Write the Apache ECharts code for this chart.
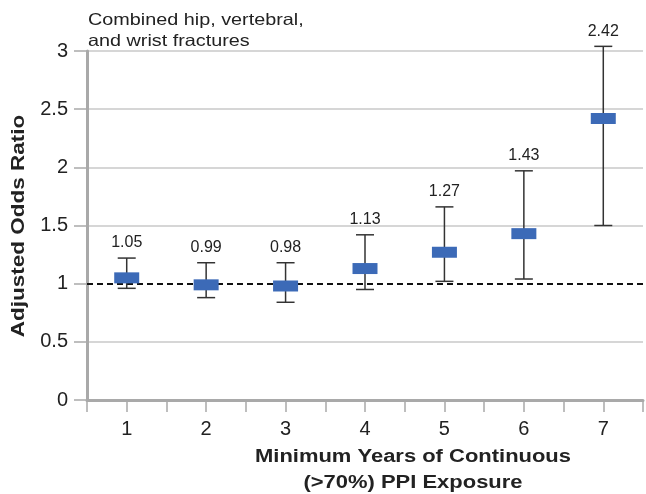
<!DOCTYPE html>
<html>
<head>
<meta charset="utf-8">
<script src="https://cdn.jsdelivr.net/npm/echarts@6/dist/echarts.min.js"></script>
<style>
  html, body { margin: 0; padding: 0; background: #fff; }
  #chart { width: 646px; height: 494px; }
</style>
</head>
<body>
<div id="chart"></div>
<script>
// Minimum years of continuous (>70%) PPI exposure
const years = [1, 2, 3, 4, 5, 6, 7];
// Adjusted odds ratios and 95% confidence limits
const oddsRatio = [1.05, 0.99, 0.98, 1.13, 1.27, 1.43, 2.42];
const ciLow = [0.96, 0.88, 0.84, 0.95, 1.02, 1.04, 1.50];
const ciHigh = [1.22, 1.18, 1.18, 1.42, 1.66, 1.97, 3.04];
const referenceRatio = 1;

const FONT = '"Liberation Sans", Arial, Helvetica, sans-serif';
const chart = echarts.init(document.getElementById('chart'), null, { renderer: 'canvas' });

const intervals = years.map((y, i) => [y, oddsRatio[i], ciLow[i], ciHigh[i]]);
const points = years.map((y, i) => [y, oddsRatio[i]]);

chart.setOption({
  animation: false,
  backgroundColor: '#ffffff',
  grid: { left: 87, right: 0, top: 51, bottom: 94, containLabel: false },
  xAxis: {
    type: 'value',
    min: 0.5, max: 7.5, interval: 0.5,
    axisLine: { show: true, lineStyle: { color: '#a9a9a9', width: 3 } },
    axisTick: { show: true, length: 12, lineStyle: { color: '#a9a9a9', width: 1.5 } },
    axisLabel: {
      margin: 19, fontFamily: FONT, fontSize: 20, color: '#222',
      formatter: v => Number.isInteger(v) ? String(v) : ''
    },
    splitLine: { show: false }
  },
  yAxis: {
    type: 'value',
    min: 0, max: 3, interval: 0.5,
    axisLine: { show: true, lineStyle: { color: '#a9a9a9', width: 3 } },
    axisTick: { show: true, length: 13, lineStyle: { color: '#a9a9a9', width: 1.5 } },
    axisLabel: { margin: 19, fontFamily: FONT, fontSize: 20, color: '#222' },
    splitLine: {
      show: true,
      lineStyle: {
        color: ['#c9c9c9', '#c9c9c9', 'rgba(0,0,0,0)', '#c9c9c9', '#c9c9c9', '#c9c9c9', '#c9c9c9'],
        width: 1.5
      }
    }
  },
  graphic: [
    {
      type: 'text', x: 88, y: 10, scaleX: 1.2,
      style: {
        text: 'Combined hip, vertebral,\nand wrist fractures',
        font: '16.5px ' + FONT, fill: '#222', lineHeight: 21
      }
    },
    {
      type: 'text', x: 19, y: 226, rotation: Math.PI / 2, scaleX: 1.25,
      style: {
        text: 'Adjusted Odds Ratio', font: 'bold 18px ' + FONT, fill: '#222',
        textAlign: 'center', textVerticalAlign: 'middle'
      }
    },
    {
      type: 'text', x: 413, y: 444, scaleX: 1.22,
      style: {
        text: 'Minimum Years of Continuous\n(>70%) PPI Exposure',
        font: 'bold 18px ' + FONT, fill: '#222', textAlign: 'center', lineHeight: 26
      }
    }
  ],
  series: [
    {
      type: 'custom',
      z: 2,
      data: intervals,
      encode: { x: 0, y: [2, 3] },
      renderItem: function (params, api) {
        const x = api.value(0);
        const lo = api.coord([x, api.value(2)]);
        const hi = api.coord([x, api.value(3)]);
        const cap = 9;
        const stroke = { stroke: '#333333', lineWidth: 1.5 };
        return {
          type: 'group',
          children: [
            { type: 'line', shape: { x1: lo[0], y1: lo[1], x2: hi[0], y2: hi[1] }, style: stroke },
            { type: 'line', shape: { x1: hi[0] - cap, y1: hi[1], x2: hi[0] + cap, y2: hi[1] }, style: stroke },
            { type: 'line', shape: { x1: lo[0] - cap, y1: lo[1], x2: lo[0] + cap, y2: lo[1] }, style: stroke },
            {
              type: 'text', x: hi[0], y: hi[1] - 15,
              style: {
                text: api.value(1).toFixed(2), font: '16px ' + FONT, fill: '#222',
                textAlign: 'center', textVerticalAlign: 'middle'
              }
            }
          ]
        };
      },
      markLine: {
        silent: true, symbol: 'none', z: 1,
        label: { show: false },
        lineStyle: { type: [6, 4], color: '#111', width: 2 },
        data: [{ yAxis: referenceRatio }]
      }
    },
    {
      type: 'scatter',
      z: 3,
      symbol: 'rect',
      symbolSize: [25, 11],
      itemStyle: { color: '#3c6ab7', opacity: 1 },
      data: points
    }
  ]
});
</script>
</body>
</html>
